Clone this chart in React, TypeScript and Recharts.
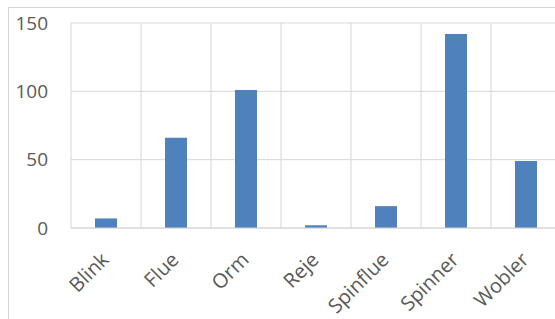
import { Bar, BarChart, CartesianGrid, XAxis, YAxis } from "recharts";

const categories = ["Blink", "Flue", "Orm", "Reje", "Spinflue", "Spinner", "Wobler"];
const counts = [7, 66, 101, 2, 16, 142, 49];
const yTicks = [0, 50, 100, 150];

const data = categories.map((name, i) => ({ name, count: counts[i] }));

const FONT = "'Open Sans', 'Liberation Sans', sans-serif";
const GRID = "#d6d6d6";
const TEXT = "#595959";

function RotatedTick(props: any) {
  const { x, y, payload } = props;
  return (
    <g transform={`translate(${x + 4},${y + 31})`}>
      <text
        transform="rotate(-45)"
        textAnchor="end"
        fill={TEXT}
        fontSize={20}
        fontFamily={FONT}
      >
        {payload.value}
      </text>
    </g>
  );
}

export default function App() {
  return (
    <div
      style={{
        position: "fixed",
        left: 8,
        top: 7,
        right: 0,
        bottom: 0,
        borderLeft: `1px solid ${GRID}`,
        borderTop: `1px solid ${GRID}`,
        overflow: "hidden",
        background: "#fff",
      }}
    >
      <BarChart
        width={600}
        height={312}
        data={data}
        margin={{ top: 15, right: 48, left: 0, bottom: 0 }}
        barSize={22}
      >
        <CartesianGrid
          stroke={GRID}
          strokeWidth={1}
          verticalCoordinatesGenerator={({ offset }: any) =>
            categories
              .map((_, i) => offset.left + (i * offset.width) / categories.length)
              .concat(offset.left + offset.width)
          }
        />
        <XAxis
          dataKey="name"
          height={92}
          axisLine={{ stroke: GRID }}
          tickLine={false}
          tickSize={0}
          interval={0}
          tick={<RotatedTick />}
        />
        <YAxis
          width={62}
          domain={[0, 150]}
          ticks={yTicks}
          axisLine={false}
          tickLine={false}
          tickSize={0}
          tickMargin={23}
          tick={{ fill: TEXT, fontSize: 19, fontFamily: FONT }}
        />
        <Bar dataKey="count" fill="#4f81bd" isAnimationActive={false} />
      </BarChart>
    </div>
  );
}
